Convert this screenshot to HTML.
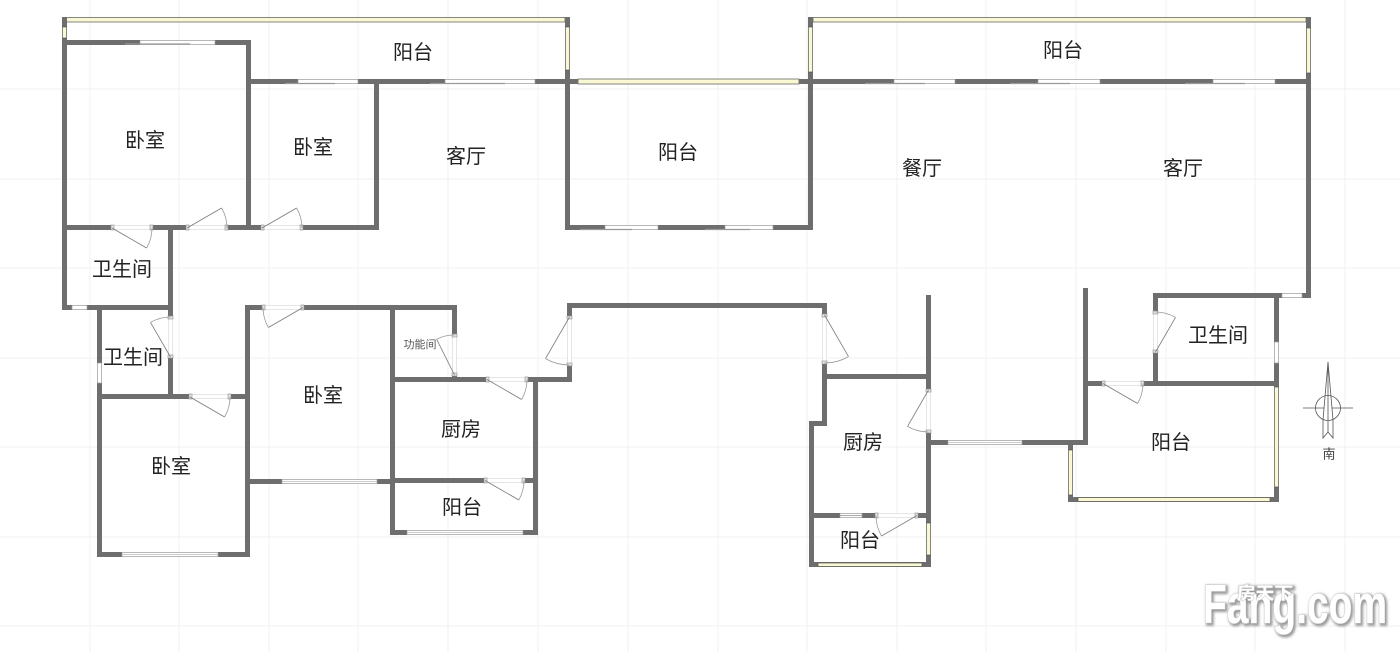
<!DOCTYPE html>
<html><head><meta charset="utf-8"><style>
html,body{margin:0;padding:0;background:#fff;}
svg{display:block;}
.w{fill:#6e6e6e;}
.y{fill:#f9f8d2;stroke:#555;stroke-width:0.7;}
.win{fill:#fff;stroke:#9a9a9a;stroke-width:0.7;}
.op{fill:#fff;stroke:#d4d4d4;stroke-width:0.6;}
.jb{fill:#e6e6e6;stroke:#8a8a8a;stroke-width:0.6;}
.leaf{stroke:#7a7a7a;stroke-width:0.8;fill:none;}
.arc{stroke:#9a9a9a;stroke-width:0.8;fill:none;}
.g{stroke:#f0f0f0;stroke-width:1;}
.t{font-family:"Liberation Sans","Noto Sans CJK SC",sans-serif;font-size:20px;fill:#222;text-anchor:middle;dominant-baseline:central;}
</style></head><body>
<svg width="1400" height="652" viewBox="0 0 1400 652" xmlns="http://www.w3.org/2000/svg">
<defs>
<filter id="sh" x="-10%" y="-20%" width="120%" height="140%"><feGaussianBlur stdDeviation="1.2"/></filter>
</defs>
<rect width="1400" height="652" fill="#fff"/>
<!-- grid -->
<g class="g">
<line x1="90" y1="0" x2="90" y2="652"/><line x1="179" y1="0" x2="179" y2="652"/><line x1="269" y1="0" x2="269" y2="652"/><line x1="358" y1="0" x2="358" y2="652"/><line x1="448" y1="0" x2="448" y2="652"/><line x1="538" y1="0" x2="538" y2="652"/><line x1="628" y1="0" x2="628" y2="652"/><line x1="718" y1="0" x2="718" y2="652"/><line x1="807" y1="0" x2="807" y2="652"/><line x1="897" y1="0" x2="897" y2="652"/><line x1="986" y1="0" x2="986" y2="652"/><line x1="1076" y1="0" x2="1076" y2="652"/><line x1="1166" y1="0" x2="1166" y2="652"/><line x1="1255" y1="0" x2="1255" y2="652"/><line x1="1345" y1="0" x2="1345" y2="652"/>
<line x1="0" y1="89" x2="1400" y2="89"/><line x1="0" y1="179" x2="1400" y2="179"/><line x1="0" y1="268" x2="1400" y2="268"/><line x1="0" y1="358" x2="1400" y2="358"/><line x1="0" y1="447" x2="1400" y2="447"/><line x1="0" y1="537" x2="1400" y2="537"/><line x1="0" y1="626" x2="1400" y2="626"/>
</g>

<!-- yellow balcony windows -->
<rect class="y" x="66" y="17.5" width="499" height="4.5"/>
<rect class="y" x="813" y="17.5" width="493" height="4.5"/>
<rect class="y" x="578" y="79" width="221" height="5"/>

<!-- walls -->
<g class="w">
<rect x="62" y="17" width="5" height="10"/><rect x="62" y="38" width="5" height="271"/>
<rect x="565" y="17" width="5" height="10"/><rect x="565" y="70" width="5" height="160"/>
<rect x="808" y="17" width="5" height="10"/><rect x="808" y="72" width="5" height="158"/>
<rect x="1306" y="17" width="5" height="11"/><rect x="1306" y="73" width="5" height="224"/>
<rect x="62" y="40" width="78" height="5"/><rect x="215" y="40" width="36" height="5"/>
<rect x="246" y="40" width="5" height="190"/>
<rect x="246" y="79" width="52" height="5"/><rect x="358" y="79" width="87" height="5"/><rect x="535" y="79" width="43" height="5"/><rect x="799" y="79" width="95" height="5"/><rect x="955" y="79" width="83" height="5"/><rect x="1100" y="79" width="113" height="5"/><rect x="1275" y="79" width="36" height="5"/>
<rect x="374" y="79" width="5" height="151"/>
<rect x="62" y="225" width="50" height="5"/><rect x="152" y="225" width="35" height="5"/><rect x="227" y="225" width="35" height="5"/><rect x="302" y="225" width="77" height="5"/>
<rect x="168" y="225" width="5" height="92"/><rect x="168" y="357" width="5" height="42"/>
<rect x="62" y="305" width="10" height="5"/><rect x="87" y="305" width="86" height="5"/>
<rect x="97" y="305" width="5" height="58"/><rect x="97" y="383" width="5" height="174"/>
<rect x="97" y="394" width="93" height="5"/><rect x="230" y="394" width="20" height="5"/>
<rect x="245" y="305" width="5" height="252"/>
<rect x="97" y="552" width="25" height="5"/><rect x="218" y="552" width="32" height="5"/>
<rect x="245" y="305" width="18" height="5"/><rect x="303" y="305" width="154" height="5"/>
<rect x="452" y="305" width="5" height="30"/><rect x="452" y="375" width="5" height="7"/>
<rect x="390" y="305" width="5" height="230"/>
<rect x="250" y="479" width="32" height="5"/><rect x="377" y="479" width="13" height="5"/>
<rect x="390" y="377" width="97" height="5"/><rect x="527" y="377" width="45" height="5"/>
<rect x="567" y="303" width="5" height="14"/><rect x="567" y="365" width="5" height="17"/>
<rect x="533" y="377" width="5" height="158"/>
<rect x="390" y="478" width="95" height="5"/><rect x="524" y="478" width="14" height="5"/>
<rect x="390" y="530" width="17" height="5"/><rect x="523" y="530" width="15" height="5"/>
<rect x="565" y="225" width="40" height="5"/><rect x="658" y="225" width="67" height="5"/><rect x="773" y="225" width="40" height="5"/>
<rect x="567" y="303" width="260" height="5"/>
<rect x="822" y="303" width="5" height="12"/><rect x="822" y="363" width="5" height="63"/>
<rect x="822" y="374" width="109" height="5"/>
<rect x="809" y="421" width="18" height="5"/>
<rect x="809" y="421" width="5" height="146"/>
<rect x="926" y="295" width="5" height="95"/><rect x="926" y="432" width="5" height="91"/><rect x="926" y="555" width="5" height="12"/>
<rect x="926" y="440" width="22" height="5"/><rect x="1022" y="440" width="66" height="5"/>
<rect x="1083" y="288" width="5" height="157"/>
<rect x="809" y="513" width="31" height="5"/><rect x="862" y="513" width="14" height="5"/><rect x="917" y="513" width="14" height="5"/>
<rect x="809" y="562" width="122" height="5"/>
<rect x="1153" y="293" width="129" height="5"/><rect x="1302" y="293" width="9" height="5"/>
<rect x="1153" y="293" width="5" height="19"/><rect x="1153" y="352" width="5" height="34"/>
<rect x="1274" y="293" width="5" height="49"/><rect x="1274" y="363" width="5" height="24"/><rect x="1274" y="487" width="5" height="15"/>
<rect x="1083" y="381" width="20" height="5"/><rect x="1143" y="381" width="135" height="5"/>
<rect x="1068" y="440" width="5" height="10"/><rect x="1068" y="495" width="5" height="7"/>
<rect x="1068" y="497" width="210" height="5"/>
</g>

<!-- yellow windows in vertical walls / bottoms -->
<rect class="y" x="62.5" y="27" width="4" height="11"/>
<rect class="y" x="565.5" y="27" width="4" height="43"/>
<rect class="y" x="808.5" y="27" width="4" height="45"/>
<rect class="y" x="1306.5" y="28" width="4" height="45"/>
<rect class="y" x="926.5" y="523" width="4" height="32"/>
<rect class="y" x="818" y="563" width="104" height="3.5"/>
<rect class="y" x="1274.5" y="387" width="4" height="100"/>
<rect class="y" x="1068.5" y="450" width="4" height="45"/>
<rect class="y" x="1078" y="497.5" width="192" height="4"/>

<!-- glass windows -->
<g>
<rect class="win" x="140" y="40.5" width="75" height="4"/><line x1="125" y1="44" x2="190" y2="44" stroke="#999" stroke-width="1.2"/>
<rect class="win" x="298" y="79.5" width="60" height="4"/><line x1="285" y1="83.5" x2="335" y2="83.5" stroke="#999" stroke-width="1.2"/>
<rect class="win" x="445" y="79.5" width="90" height="4"/><line x1="430" y1="83.5" x2="505" y2="83.5" stroke="#999" stroke-width="1.2"/>
<rect class="win" x="894" y="79.5" width="61" height="4"/><line x1="865" y1="83.5" x2="925" y2="83.5" stroke="#999" stroke-width="1.2"/>
<rect class="win" x="1038" y="79.5" width="62" height="4"/><line x1="1010" y1="83.5" x2="1070" y2="83.5" stroke="#999" stroke-width="1.2"/>
<rect class="win" x="1213" y="79.5" width="62" height="4"/><line x1="1185" y1="83.5" x2="1245" y2="83.5" stroke="#999" stroke-width="1.2"/>
<rect class="win" x="605" y="225.5" width="53" height="4"/><line x1="580" y1="229.5" x2="632" y2="229.5" stroke="#999" stroke-width="1.2"/>
<rect class="win" x="725" y="225.5" width="48" height="4"/><line x1="705" y1="229.5" x2="750" y2="229.5" stroke="#999" stroke-width="1.2"/>
<rect class="win" x="72" y="305.5" width="15" height="4"/>
<rect class="win" x="122" y="552.5" width="96" height="4"/><line x1="122" y1="554.5" x2="218" y2="554.5" stroke="#bbb" stroke-width="0.8"/>
<rect class="win" x="282" y="479.5" width="95" height="4"/><line x1="282" y1="481.5" x2="377" y2="481.5" stroke="#bbb" stroke-width="0.8"/>
<rect class="win" x="407" y="530.5" width="116" height="4"/><line x1="407" y1="532.5" x2="523" y2="532.5" stroke="#bbb" stroke-width="0.8"/>
<rect class="win" x="948" y="440.5" width="74" height="4"/><line x1="948" y1="442.5" x2="1022" y2="442.5" stroke="#bbb" stroke-width="0.8"/>
<rect class="win" x="840" y="513.5" width="22" height="4"/><line x1="840" y1="515.5" x2="862" y2="515.5" stroke="#aaa" stroke-width="1"/>
<rect class="win" x="1282" y="293.5" width="20" height="4"/>
<rect class="win" x="97.5" y="363" width="4" height="20"/>
<rect class="win" x="1274.5" y="342" width="4" height="21"/>
</g>

<!-- door openings -->
<g>
<rect class="op" x="112" y="225.5" width="40" height="4"/><rect class="jb" x="111" y="225" width="3" height="5"/><rect class="jb" x="150" y="225" width="3" height="5"/>
<rect class="op" x="187" y="225.5" width="40" height="4"/><rect class="jb" x="186" y="225" width="3" height="5"/><rect class="jb" x="225" y="225" width="3" height="5"/>
<rect class="op" x="262" y="225.5" width="40" height="4"/><rect class="jb" x="261" y="225" width="3" height="5"/><rect class="jb" x="300" y="225" width="3" height="5"/>
<rect class="op" x="168.5" y="317" width="4" height="40"/><rect class="jb" x="168" y="316" width="5" height="3"/><rect class="jb" x="168" y="355" width="5" height="3"/>
<rect class="op" x="190" y="394.5" width="40" height="4"/><rect class="jb" x="189" y="394" width="3" height="5"/><rect class="jb" x="228" y="394" width="3" height="5"/>
<rect class="op" x="263" y="305.5" width="40" height="4"/><rect class="jb" x="262" y="305" width="3" height="5"/><rect class="jb" x="301" y="305" width="3" height="5"/>
<rect class="op" x="452.5" y="335" width="4" height="40"/><rect class="jb" x="452" y="334" width="5" height="3"/><rect class="jb" x="452" y="373" width="5" height="3"/>
<rect class="op" x="487" y="377.5" width="40" height="4"/><rect class="jb" x="486" y="377" width="3" height="5"/><rect class="jb" x="525" y="377" width="3" height="5"/>
<rect class="op" x="567.5" y="317" width="4" height="48"/><rect class="jb" x="567" y="316" width="5" height="3"/><rect class="jb" x="567" y="363" width="5" height="3"/>
<rect class="op" x="485" y="478.5" width="39" height="4"/><rect class="jb" x="484" y="478" width="3" height="5"/><rect class="jb" x="522" y="478" width="3" height="5"/>
<rect class="op" x="822.5" y="315" width="4" height="48"/><rect class="jb" x="822" y="314" width="5" height="3"/><rect class="jb" x="822" y="361" width="5" height="3"/>
<rect class="op" x="926.5" y="390" width="4" height="42"/><rect class="jb" x="926" y="389" width="5" height="3"/><rect class="jb" x="926" y="430" width="5" height="3"/>
<rect class="op" x="876" y="513.5" width="41" height="4"/><rect class="jb" x="875" y="513" width="3" height="5"/><rect class="jb" x="915" y="513" width="3" height="5"/>
<rect class="op" x="1153.5" y="312" width="4" height="40"/><rect class="jb" x="1153" y="311" width="5" height="3"/><rect class="jb" x="1153" y="350" width="5" height="3"/>
<rect class="op" x="1103" y="381.5" width="40" height="4"/><rect class="jb" x="1102" y="381" width="3" height="5"/><rect class="jb" x="1141" y="381" width="3" height="5"/>
</g>

<!-- door leaves & arcs -->
<g>
<path class="leaf" d="M112 228 L146.6 248"/><path class="arc" d="M146.6 248 A40 40 0 0 0 152 228"/>
<path class="leaf" d="M187 228 L221.6 208"/><path class="arc" d="M221.6 208 A40 40 0 0 1 227 228"/>
<path class="leaf" d="M262 228 L296.6 208"/><path class="arc" d="M296.6 208 A40 40 0 0 1 302 228"/>
<path class="leaf" d="M170.5 357 L150.5 322.4"/><path class="arc" d="M150.5 322.4 A40 40 0 0 1 170.5 317"/>
<path class="leaf" d="M190 397 L224.6 417"/><path class="arc" d="M224.6 417 A40 40 0 0 0 230 397"/>
<path class="leaf" d="M303 307.5 L268.4 327.5"/><path class="arc" d="M268.4 327.5 A40 40 0 0 1 263 307.5"/>
<path class="leaf" d="M454.5 375 L436.6 339.2"/><path class="arc" d="M436.6 339.2 A40 40 0 0 1 454.5 335"/>
<path class="leaf" d="M487 379.5 L521.6 399.5"/><path class="arc" d="M521.6 399.5 A40 40 0 0 0 527 379.5"/>
<path class="leaf" d="M569.5 317 L545.5 358.6"/><path class="arc" d="M545.5 358.6 A48 48 0 0 0 569.5 365"/>
<path class="leaf" d="M485 480.5 L518.8 500"/><path class="arc" d="M518.8 500 A39 39 0 0 0 524 480.5"/>
<path class="leaf" d="M824.5 315 L848.5 356.6"/><path class="arc" d="M848.5 356.6 A48 48 0 0 1 824.5 363"/>
<path class="leaf" d="M928.5 390 L907.5 426.4"/><path class="arc" d="M907.5 426.4 A42 42 0 0 0 928.5 432"/>
<path class="leaf" d="M917 515.5 L881.5 536"/><path class="arc" d="M881.5 536 A41 41 0 0 1 876 515.5"/>
<path class="leaf" d="M1155.5 352 L1175.5 317.4"/><path class="arc" d="M1175.5 317.4 A40 40 0 0 0 1155.5 312"/>
<path class="leaf" d="M1103 383.5 L1137.6 403.5"/><path class="arc" d="M1137.6 403.5 A40 40 0 0 0 1143 383.5"/>
</g>

<!-- labels -->
<g class="t">
<text x="413" y="53">阳台</text>
<text x="145" y="141">卧室</text>
<text x="313" y="148">卧室</text>
<text x="466" y="157">客厅</text>
<text x="678" y="153">阳台</text>
<text x="1063" y="51">阳台</text>
<text x="922" y="169">餐厅</text>
<text x="1183" y="169">客厅</text>
<text x="122" y="270">卫生间</text>
<text x="133" y="358">卫生间</text>
<text x="171" y="467">卧室</text>
<text x="323" y="396">卧室</text>
<text x="420" y="345" style="font-size:11px;fill:#555">功能间</text>
<text x="461" y="430">厨房</text>
<text x="462" y="508">阳台</text>
<text x="863" y="443">厨房</text>
<text x="860" y="541">阳台</text>
<text x="1218" y="336">卫生间</text>
<text x="1171" y="443">阳台</text>
<text x="1329" y="454" style="font-size:13px;fill:#444">南</text>
</g>

<!-- compass -->
<g stroke="#555" stroke-width="0.8" fill="none">
<line x1="1303" y1="408" x2="1353" y2="408"/>
<polygon points="1328,362 1333,420 1333,438 1328,432 1323,438 1323,420" fill="#fff"/>
<line x1="1328" y1="362" x2="1328" y2="432"/>
<circle cx="1328" cy="408" r="12.5"/>
</g>

<!-- watermark -->
<g font-family="Liberation Sans, Noto Sans CJK SC, sans-serif" font-weight="bold">
<g fill="#9a9a9a" stroke="#9a9a9a" stroke-width="3" filter="url(#sh)" transform="translate(1.5,1.5)">
<text x="1203" y="623" font-size="55" textLength="184" lengthAdjust="spacingAndGlyphs">Fang.com</text>
<text x="1237" y="599" font-size="17" textLength="56" lengthAdjust="spacingAndGlyphs">房天下</text>
</g>
<g fill="#fff" stroke="#c8c8c8" stroke-width="1" style="paint-order:stroke">
<text x="1203" y="623" font-size="55" textLength="184" lengthAdjust="spacingAndGlyphs">Fang.com</text>
<text x="1237" y="599" font-size="17" textLength="56" lengthAdjust="spacingAndGlyphs">房天下</text>
</g>
</g>
</svg>
</body></html>
